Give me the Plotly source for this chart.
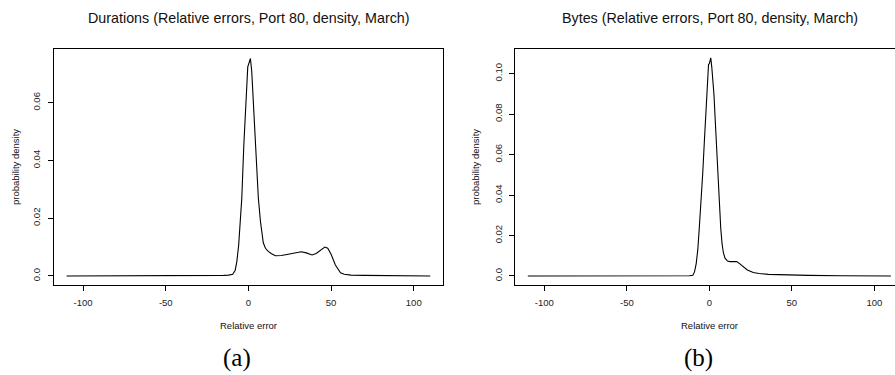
import plotly.graph_objects as go

# ---- Data ----
dur_x = [-110, -60, -30, -20, -15, -12, -10, -9.5, -8, -7, -5.9, -5, -4, -2.8, -2, -1, -0.4,
         0.5, 1.2, 2, 3, 4.2, 5, 6, 7.3, 8, 9, 10.3, 12, 14, 16.3, 20, 24.4, 28, 32, 35,
         38.5, 41, 44, 46.2, 48, 50, 52.6, 55.7, 58, 62, 70, 80, 100, 110]
dur_y = [0.0, 0.0, 0.00003, 0.0001, 0.0002, 0.0003, 0.0005, 0.0006, 0.002, 0.005, 0.0107,
         0.017, 0.027, 0.045, 0.056, 0.066, 0.0724, 0.074, 0.0753, 0.071, 0.060, 0.0453,
         0.036, 0.027, 0.0188, 0.015, 0.0115, 0.0096, 0.0085, 0.0077, 0.0070, 0.0071,
         0.0075, 0.0079, 0.0084, 0.0080, 0.0073, 0.0078, 0.0092, 0.0100, 0.0096, 0.0075,
         0.0038, 0.0011, 0.0006, 0.0003, 0.0002, 0.0001, 0.00005, 0.0]

byt_x = [-110, -50, -20, -12, -10, -9, -8, -7, -6, -5, -4, -3, -2, -1, -0.5, 0, 0.85, 1.5,
         2, 2.8, 3.5, 4.2, 4.8, 5.5, 6.2, 6.9, 7.7, 8.5, 9.5, 11, 12.5, 14, 16.6, 18.5,
         20.6, 23, 26.6, 30, 35.7, 45, 60, 80, 100, 110]
byt_y = [0.0, 0.0, 0.0, 0.0001, 0.0004, 0.002, 0.006, 0.013, 0.025, 0.037, 0.051, 0.067,
         0.083, 0.098, 0.1045, 0.105, 0.1078, 0.103, 0.099, 0.0896, 0.078, 0.066, 0.0566,
         0.044, 0.033, 0.0236, 0.016, 0.0115, 0.0088, 0.0074, 0.0071, 0.0072, 0.0071,
         0.0060, 0.0046, 0.0030, 0.0017, 0.0012, 0.0008, 0.0005, 0.0003, 0.0001, 0.00005, 0.0]

x_ticks = [-100, -50, 0, 50, 100]
x_tick_labels = ["-100", "-50", "0", "50", "100"]
dur_yticks = [0, 0.02, 0.04, 0.06]
dur_ytick_labels = ["0.0", "0.02", "0.04", "0.06"]
byt_yticks = [0, 0.02, 0.04, 0.06, 0.08, 0.10]
byt_ytick_labels = ["0.0", "0.02", "0.04", "0.06", "0.08", "0.10"]

title_a = "Durations (Relative errors, Port 80, density, March)"
title_b = "Bytes (Relative errors, Port 80, density, March)"
xlabel = "Relative error"
ylabel = "probability density"

# ---- Figure ----
W, H = 895, 375
SANS = "Liberation Sans, Arial, sans-serif"
SERIF = "Liberation Serif, Times New Roman, serif"

fig = go.Figure()
fig.add_trace(go.Scatter(x=dur_x, y=dur_y, mode="lines", xaxis="x", yaxis="y",
                         line=dict(color="black", width=1.1), showlegend=False))
fig.add_trace(go.Scatter(x=byt_x, y=byt_y, mode="lines", xaxis="x2", yaxis="y2",
                         line=dict(color="black", width=1.1), showlegend=False))

ydom = [1 - 285 / H, 1 - 49 / H]
common_x = dict(showgrid=False, zeroline=False, showline=True, linecolor="black", linewidth=1,
                ticks="outside", ticklen=5, tickcolor="black", tickwidth=1, automargin=False,
                tickvals=x_ticks, ticktext=x_tick_labels,
                tickfont=dict(family=SANS, size=9.5, color="#222"), ticklabelstandoff=4)
common_y = dict(showgrid=False, zeroline=False, showline=True, linecolor="black", linewidth=1,
                ticks="outside", ticklen=5, tickcolor="black", tickwidth=1, tickangle=-90,
                automargin=False,
                tickfont=dict(family=SANS, size=9.5, color="#222"), ticklabelstandoff=4)

fig.update_layout(
    width=W, height=H, margin=dict(l=0, r=0, t=0, b=0),
    paper_bgcolor="white", plot_bgcolor="white", showlegend=False,
    xaxis=dict(domain=[54 / W, 443 / W], range=[-117.6, 117.7], anchor="y", mirror=True, **common_x),
    yaxis=dict(domain=ydom, range=[-0.00312, 0.0786], anchor="x", mirror=True,
               tickvals=dur_yticks, ticktext=dur_ytick_labels, **common_y),
    xaxis2=dict(domain=[515.3 / W, 1.0], range=[-117.6, 112.5], anchor="y2", mirror=True, **common_x),
    yaxis2=dict(domain=ydom, range=[-0.00446, 0.1122], anchor="x2", mirror=False,
                tickvals=byt_yticks, ticktext=byt_ytick_labels, **common_y),
)

def ann(text, x, y, size, family=SANS, angle=0, color="#111"):
    fig.add_annotation(text=text, x=x / W, y=1 - y / H, xref="paper", yref="paper",
                       showarrow=False, xanchor="center", yanchor="middle", textangle=angle,
                       font=dict(family=family, size=size, color=color))

ann(title_a, 248.5, 18, 14.3)
ann(title_b, 709.5, 18, 14.3)
ann(xlabel, 248.5, 325.5, 9.5)
ann(xlabel, 709.5, 325.5, 9.5)
ann(ylabel, 15, 167, 9.5, angle=-90)
ann(ylabel, 475, 167, 9.5, angle=-90)
ann("(a)", 236.7, 358, 25, family=SERIF, color="black")
ann("(b)", 698.3, 358, 25, family=SERIF, color="black")

fig.write_html("out.html", config={"displayModeBar": False},
               post_script="document.body.style.margin='0';")
